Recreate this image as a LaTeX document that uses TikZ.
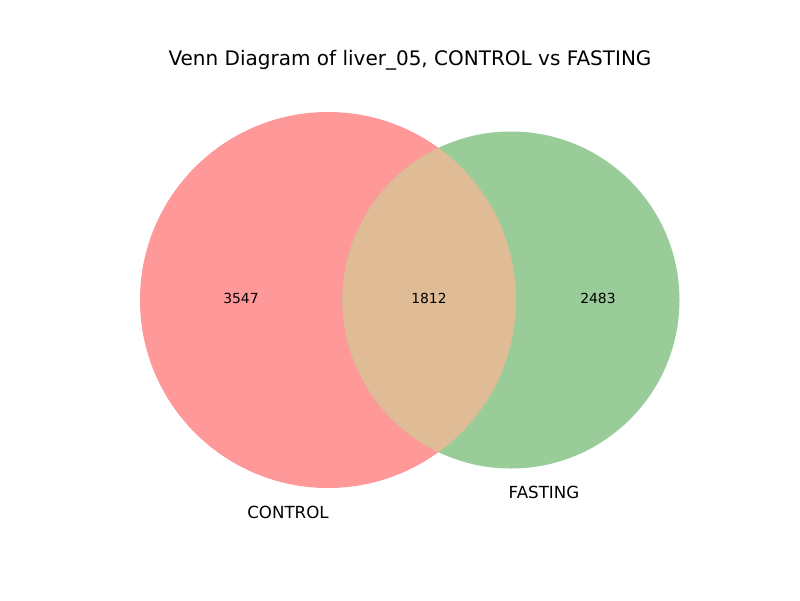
\documentclass[tikz,border=0pt]{standalone}
\usepackage{fontspec}
\setmainfont{DejaVu Sans}
\definecolor{setred}{RGB}{255,153,153}
\definecolor{setgreen}{RGB}{153,204,153}
\definecolor{setmix}{RGB}{224,188,150}

\begin{document}
\begin{tikzpicture}[
          x=0.72pt, y=-0.72pt,
          count/.style={anchor=base, font=\fontsize{10}{12}\selectfont},
          setlabel/.style={anchor=base, font=\fontsize{12}{14}\selectfont},
          heading/.style={anchor=base, font=\fontsize{14.4}{17}\selectfont}
        ]
          \useasboundingbox (0,0) rectangle (800,600);

          % sets
          \fill[setred] (328,300) circle[radius=188];
          \fill[setgreen] (511,300) circle[radius=168.5];
          \begin{scope}
            \clip (328,300) circle[radius=188];
            \fill[setmix] (511,300) circle[radius=168.5];
          \end{scope}

          % title
          \node[heading] (title) at (410,65) {Venn Diagram of liver\_05, CONTROL vs FASTING};

          % counts
          \node[count] (onlyctrl) at (241,303) {3547};
          \node[count] (both) at (429,303) {1812};
          \node[count] (onlyfast) at (598,303) {2483};

          % set names
          \node[setlabel] (ctrl) at (288,518) {CONTROL};
          \node[setlabel] (fast) at (544,498) {FASTING};
\end{tikzpicture}
\end{document}
